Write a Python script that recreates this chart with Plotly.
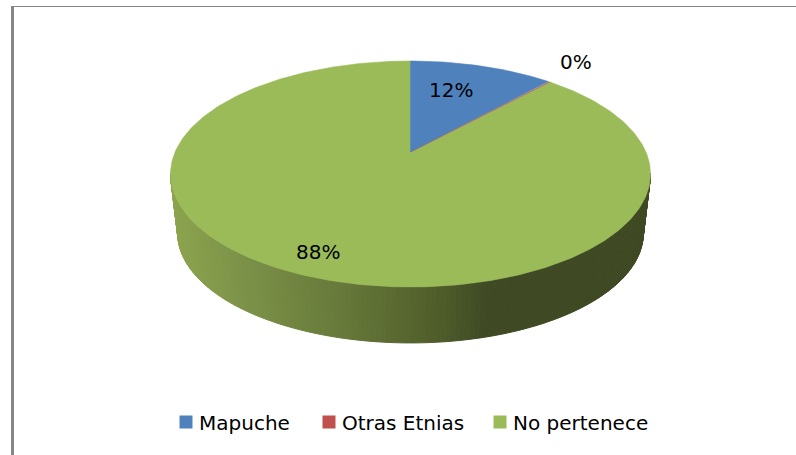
import numpy as np
import plotly.graph_objects as go

# ---- data ----
categories = ["Mapuche", "Otras Etnias", "No pertenece"]
values = [11.7, 0.15, 88.15]
slice_colors = ["#4F81BD", "#C0504D", "#9BBB59"]
label_positions = [(451, 90), (576, 62), (318, 252)]

# ---- projection of the tilted disc onto pixel space ----
CX, CY = 410.5, 152.0
KX, KY, C = 235.4, 108.7, 0.1947
DROP, SCALE = 60.0, 0.97


def project(theta, drop=0.0, scale=1.0):
    u, v = np.sin(theta), np.cos(theta)
    # v > 0 is the back of the disc; the front is nearer and therefore bigger
    d = 1 + C * v
    return CX + scale * KX * u / d, CY + drop - scale * KY * v / d


side_stops_x = [170, 250, 340, 440, 485, 650]
side_stops_rgb = [
    (140, 164, 78), (122, 143, 71), (103, 121, 58),
    (79, 92, 42), (63, 74, 36), (63, 73, 35),
]


def side_colour(x):
    rgb = [np.interp(x, side_stops_x, [s[i] for s in side_stops_rgb]) for i in range(3)]
    return "rgb(%d,%d,%d)" % tuple(int(round(c)) for c in rgb)


fig = go.Figure()

# side wall as thin strips, visible part of the rim only
angles = np.radians(np.arange(101, 259.01, 1.0))
for a0, a1 in zip(angles[:-1], angles[1:]):
    xt0, yt0 = project(a0)
    xt1, yt1 = project(a1)
    xb0, yb0 = project(a0, DROP, SCALE)
    xb1, yb1 = project(a1, DROP, SCALE)
    col = side_colour((xt0 + xt1) / 2)
    fig.add_trace(go.Scatter(
        x=[xt0, xt1, xb1, xb0, xt0], y=[yt0, yt1, yb1, yb0, yt0],
        mode="lines", fill="toself", fillcolor=col,
        line=dict(color=col, width=1), hoverinfo="skip", showlegend=False,
    ))

# top face, clockwise from 12 o'clock; green first so the thin slices stay on top
total = sum(values)
edges = np.cumsum([0.0] + values) / total * 2 * np.pi
slice_outline = [0.6, 0.25, 0.6]
for i in [2, 0, 1]:
    t = np.linspace(edges[i], edges[i + 1], max(3, int(values[i] * 4)))
    x, y = project(t)
    fig.add_trace(go.Scatter(
        x=np.r_[CX, x, CX], y=np.r_[CY, y, CY],
        mode="lines", fill="toself", fillcolor=slice_colors[i],
        line=dict(color=slice_colors[i], width=slice_outline[i]),
        hoverinfo="skip", showlegend=False,
    ))

# legend entries, one legend each so that the gaps match
legend_x = [193, 336, 507]
legend_layout = {}
for i, name in enumerate(categories):
    key = "legend" if i == 0 else f"legend{i + 1}"
    fig.add_trace(go.Scatter(
        x=[None], y=[None], mode="markers", name=name, legend=key,
        marker=dict(symbol="square", size=13, color=slice_colors[i]),
    ))
    legend_layout[key] = dict(
        x=(legend_x[i] - 34) / 796, xanchor="left", y=1 - 422 / 455, yanchor="middle",
        font=dict(family="DejaVu Sans", size=20, color="#000000"),
        bgcolor="rgba(0,0,0,0)", itemclick=False, itemdoubleclick=False,
    )

labels = [
    dict(x=p[0], y=p[1], xref="x", yref="y", text=f"{round(v)}%", showarrow=False,
         font=dict(family="DejaVu Sans", size=20, color="#000000"))
    for p, v in zip(label_positions, values)
]

fig.update_layout(
    width=796, height=455,
    margin=dict(l=0, r=0, t=0, b=0),
    paper_bgcolor="#FFFFFF", plot_bgcolor="#FFFFFF",
    xaxis=dict(range=[0, 796], visible=False, fixedrange=True),
    yaxis=dict(range=[455, 0], visible=False, fixedrange=True),
    annotations=labels,
    shapes=[
        dict(type="rect", xref="x", yref="y", x0=11, x1=14, y0=6, y1=455,
             fillcolor="#868686", line=dict(width=0)),
        dict(type="rect", xref="x", yref="y", x0=11, x1=796, y0=6, y1=7,
             fillcolor="#868686", line=dict(width=0)),
    ],
    **legend_layout,
)

page_fix = """
document.body.style.margin = '0';
document.querySelectorAll('.legendsymbols').forEach(function (g) {
  g.setAttribute('transform', 'translate(7,0)');
});
"""
fig.write_html("out.html", config=dict(displayModeBar=False), post_script=page_fix)
